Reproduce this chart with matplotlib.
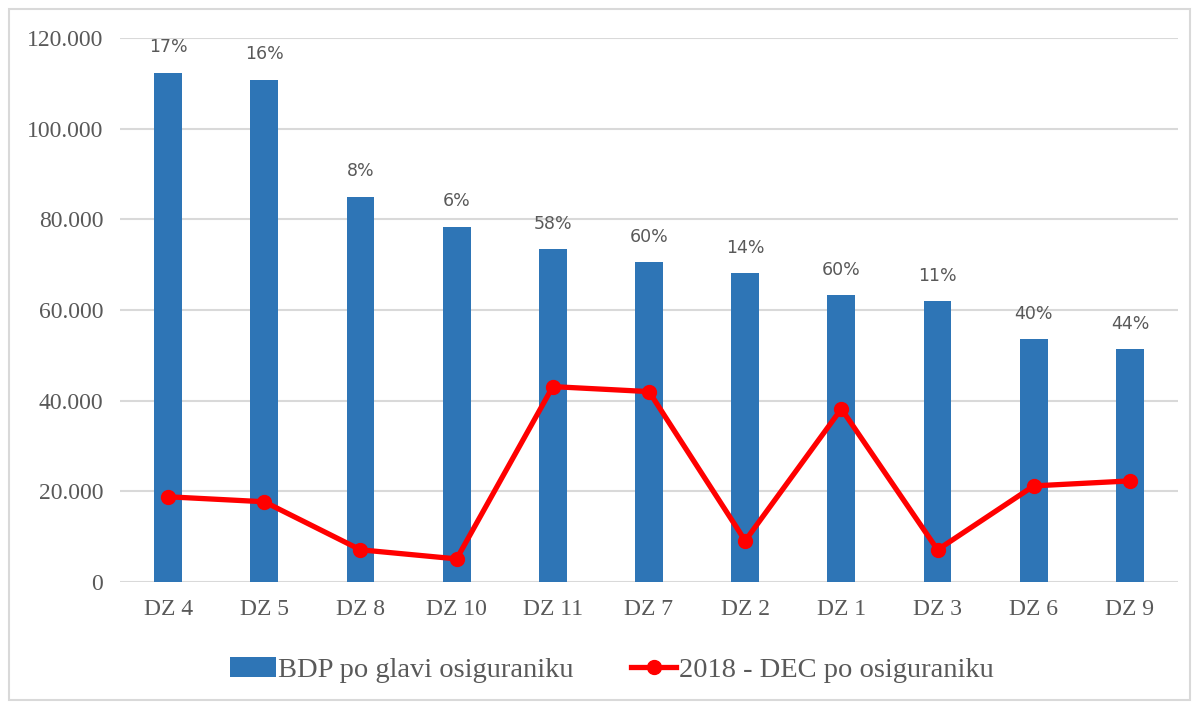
import numpy as np
import matplotlib.pyplot as plt
from matplotlib.patches import Rectangle

categories = ['DZ 4', 'DZ 5', 'DZ 8', 'DZ 10', 'DZ 11', 'DZ 7', 'DZ 2', 'DZ 1', 'DZ 3', 'DZ 6', 'DZ 9']
bdp = [112300, 110700, 84900, 78400, 73400, 70500, 68100, 63200, 61900, 53500, 51300]
dec = [18800, 17700, 7100, 5100, 43100, 42000, 9100, 38200, 7100, 21200, 22300]
pct_labels = ['17%', '16%', '8%', '6%', '58%', '60%', '14%', '60%', '11%', '40%', '44%']

grey = '#595959'
fig = plt.figure(figsize=(11.99, 7.06), dpi=100)
ax = fig.add_axes([120 / 1199, 1 - 582 / 706, 1058 / 1199, 544 / 706])

x = np.arange(len(categories))
bars = ax.bar(x, bdp, width=0.29, color='#2E75B6', label='BDP po glavi osiguraniku', zorder=2)
line, = ax.plot(x, dec, color='#FF0000', lw=3.8, marker='o', ms=10,
                label='2018 - DEC po osiguraniku', zorder=3)

for xi, h, t in zip(x, bdp, pct_labels):
    ax.annotate(t, (xi, h), xytext=(0, 12), textcoords='offset points',
                ha='center', va='bottom', fontsize=12.5, color=grey,
                family='DejaVu Sans')

ax.set_xlim(-0.5, len(categories) - 0.5)
ax.set_ylim(0, 120000)
ax.set_yticks(np.arange(0, 120001, 20000))
ax.set_yticklabels(['0'] + ['{:,.0f}'.format(v).replace(',', '.') for v in range(20000, 120001, 20000)])
ax.set_xticks(x)
ax.set_xticklabels(categories)
ax.tick_params(length=0, labelsize=17, colors=grey, pad=12)
for lab in ax.get_xticklabels() + ax.get_yticklabels():
    lab.set_family('Liberation Serif')
ax.yaxis.grid(True, color='#D9D9D9', lw=1.5, zorder=0)
for s in ax.spines.values():
    s.set_visible(False)

leg = fig.legend([bars, line], [bars.get_label(), line.get_label()],
                 loc='center', bbox_to_anchor=(612 / 1199, 1 - 670 / 706), ncol=2,
                 frameon=False, prop={'family': 'Liberation Serif', 'size': 20.5},
                 handlelength=1.6, handletextpad=0.1, columnspacing=2.0)
for t in leg.get_texts():
    t.set_color(grey)

fig.patches.append(Rectangle((9 / 1199, 6 / 706), 1181 / 1199, 691 / 706, transform=fig.transFigure,
                             fill=False, edgecolor='#D9D9D9', lw=1.5))
fig.savefig('out.png', dpi=100)
